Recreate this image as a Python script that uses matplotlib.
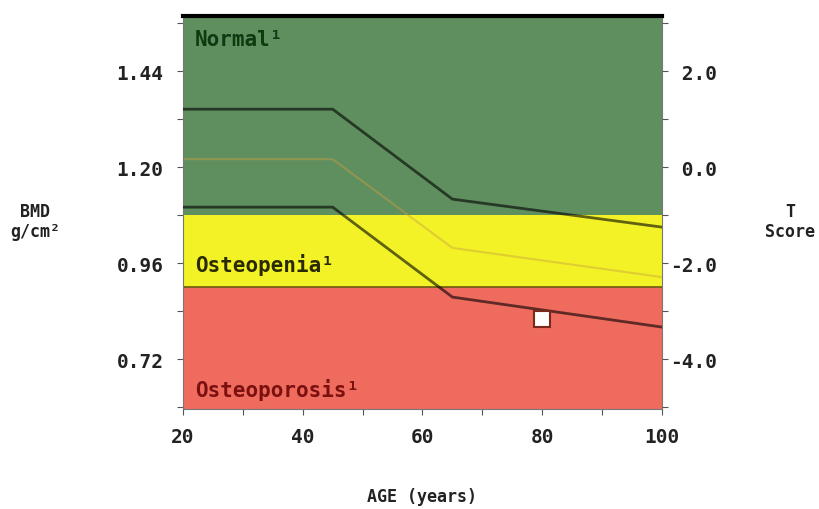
import matplotlib
matplotlib.use("Agg")
import matplotlib.pyplot as plt

# reference curve (age vs BMD)
ages = [20, 45, 65, 100]
bmd_upper = [1.345, 1.345, 1.12, 1.05]
bmd_mean = [1.22, 1.22, 0.998, 0.925]
bmd_lower = [1.10, 1.10, 0.875, 0.80]

# patient point
pt_age = [80]
pt_bmd = [0.82]

# T-score bands (g/cm2)
band_edges = [0.595, 0.90, 1.08, 1.578]
band_names = ["Osteoporosis¹", "Osteopenia¹", "Normal¹"]
band_colors = ["#ef6b5e", "#f2f227", "#5f8f5f"]
text_colors = ["#7a1010", "#2a2a00", "#0e3a12"]

x_ticks = [20, 30, 40, 50, 60, 70, 80, 90, 100]
x_labels = ["20", "", "40", "", "60", "", "80", "", "100"]
y_ticks = [0.60, 0.72, 0.84, 0.96, 1.08, 1.20, 1.32, 1.44, 1.56]
y_labels = ["", "0.72", "", "0.96", "", "1.20", "", "1.44", ""]
t_ticks = [-5, -4, -3, -2, -1, 0, 1, 2, 3]
t_labels = ["", "-4.0", "", "-2.0", "", " 0.0", "", " 2.0", ""]

font = "DejaVu Sans Mono"

fig = plt.figure(figsize=(8.19, 5.10), dpi=100)
ax = fig.add_axes([0.2234, 0.196, 0.5849, 0.7706])

for i in range(3):
    ax.axhspan(band_edges[i], band_edges[i + 1], color=band_colors[i], lw=0, zorder=0)
ax.axhline(band_edges[1], color="#6a5a10", lw=1.2, zorder=1)

ax.plot(ages, bmd_mean, color="#c8a040", lw=1.5, alpha=0.45, zorder=2)
ax.plot(ages, bmd_upper, color="black", lw=2, alpha=0.6, zorder=3)
ax.plot(ages, bmd_lower, color="black", lw=2, alpha=0.6, zorder=3)
ax.plot(pt_age, pt_bmd, "s", ms=12, mfc="white", mec="#7a2a1a", mew=1.5, zorder=4)

ax.text(22, 1.52, band_names[2], family=font, weight="bold", fontsize=15, color=text_colors[2], va="center")
ax.text(22, 0.957, band_names[1], family=font, weight="bold", fontsize=15, color=text_colors[1], va="center")
ax.text(22, 0.645, band_names[0], family=font, weight="bold", fontsize=15, color=text_colors[0], va="center")

ax.set_xlim(20, 100)
ax.set_ylim(band_edges[0], band_edges[-1])
ax.set_xticks(x_ticks)
ax.set_xticklabels(x_labels, family=font, weight="bold", fontsize=14)
ax.set_yticks(y_ticks)
ax.set_yticklabels(y_labels, family=font, weight="bold", fontsize=14)
ax.tick_params(axis="y", direction="out", length=4, pad=10, color="#555555", labelcolor="#222222")
ax.tick_params(axis="x", direction="out", length=4, pad=9, color="#555555", labelcolor="#222222")

for s in ["left", "right", "bottom"]:
    ax.spines[s].set_color("#777777")
    ax.spines[s].set_linewidth(0.8)
ax.spines["top"].set_color("black")
ax.spines["top"].set_linewidth(3)

ax2 = ax.twinx()
ax2.set_ylim((band_edges[0] - 1.20) / 0.12, (band_edges[-1] - 1.20) / 0.12)
ax2.set_yticks(t_ticks)
ax2.set_yticklabels(t_labels, family=font, weight="bold", fontsize=14)
ax2.tick_params(direction="out", length=4, pad=2, color="#555555", labelcolor="#222222")
for s in ["left", "right", "bottom", "top"]:
    ax2.spines[s].set_visible(False)

fig.text(0.043, 0.565, "BMD\ng/cm²", family=font, weight="bold", fontsize=12, color="#222222", ha="center", va="center", linespacing=1.1)
fig.text(0.965, 0.565, "T\nScore", family=font, weight="bold", fontsize=12, color="#222222", ha="center", va="center", linespacing=1.1)
fig.text(0.515, 0.025, "AGE (years)", family=font, weight="bold", fontsize=12, color="#222222", ha="center", va="center")

fig.savefig("out.png", dpi=100)
